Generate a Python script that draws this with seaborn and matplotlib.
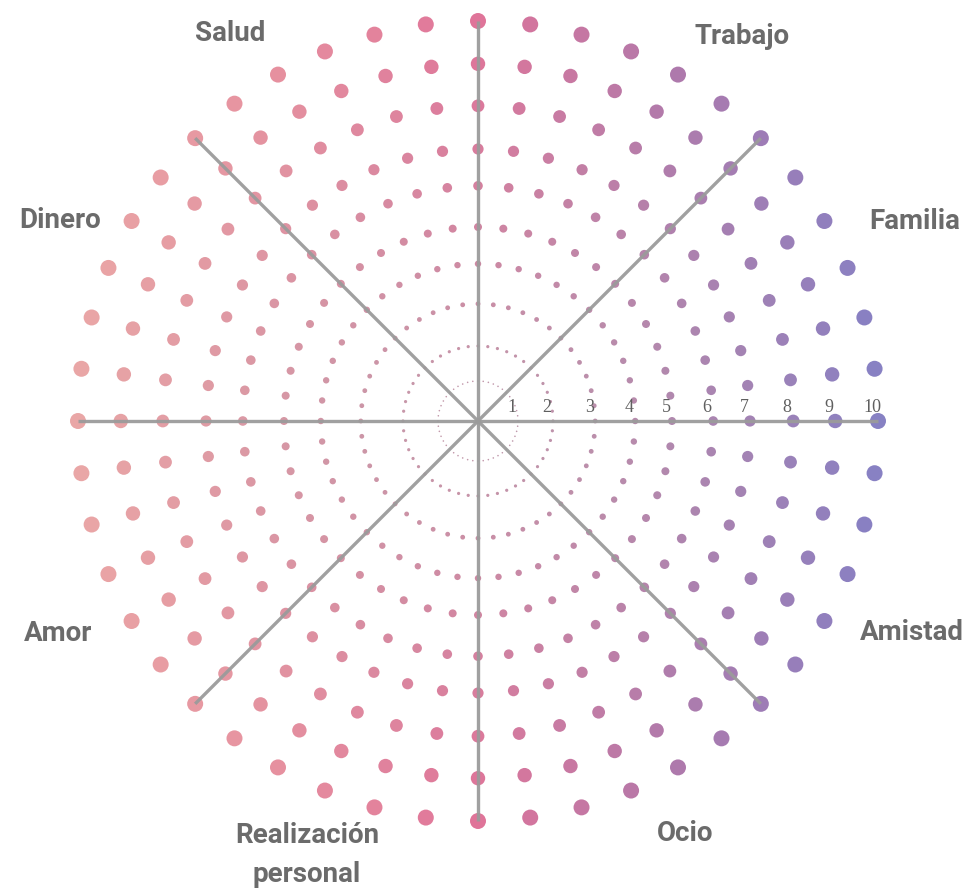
import numpy as np
import pandas as pd
import seaborn as sns
import matplotlib
import matplotlib.pyplot as plt
from matplotlib.colors import to_rgba

# Data.
categories = ['Familia', 'Trabajo', 'Salud', 'Dinero', 'Amor',
              'Realización\npersonal', 'Ocio', 'Amistad']
scale_labels = ['1', '2', '3', '4', '5', '6', '7', '8', '9', '10']
ring_levels = [1, 2, 3, 4, 5, 6, 7, 8, 9, 10]
ring_radius = [1.0, 1.875, 2.93, 3.93, 4.85, 5.88, 6.8, 7.88, 8.93, 10.0]
spoke_angles = [0, 45, 90, 135, 180, 225, 270, 315]
dots_per_ring = 48

# Layout of the category labels (angle in degrees, radius).
label_layout = [(24.6, 12.0), (55.5, 11.65), (122.6, 11.5), (154.4, 11.58),
                (206.8, 11.76), (248.5, 11.66), (296.7, 11.53), (334.0, 12.07)]


def main():
    ''' Dotted wheel of life. '''

    # Build dot table.
    rows = []
    for level, rad in zip(ring_levels, ring_radius):
        for k in range(dots_per_ring):
            theta = 2 * np.pi * k / dots_per_ring
            rows.append({'theta': theta, 'r': rad, 'ring': level,
                         'xpos': rad * np.cos(theta)})
    df = pd.DataFrame(rows)

    fig = plt.figure(figsize=(9.74, 8.93), dpi=100)
    ax = fig.add_axes([78 / 974, 72 / 893, 800 / 974, 800 / 893], projection='polar')

    cmap = sns.blend_palette(['#E9A6A6', '#E6909F', '#DF7499', '#AE79AC', '#8781C3'],
                             as_cmap=True)
    size_map = {lv: (1.6 * lv * 0.72) ** 2 for lv in ring_levels}

    sns.scatterplot(data=df, x='theta', y='r', hue='xpos', palette=cmap, hue_norm=(-10, 10),
                    size='ring', sizes=size_map, linewidth=0, legend=False, ax=ax, zorder=3)
    coll = ax.collections[0]
    coll.set_clip_on(False)

    # Fade inner rings toward a soft grey.
    fc = np.array(coll.get_facecolors())
    grey = np.array(to_rgba('#b3aab3'))
    w = (1 - df['ring'].to_numpy() / 10.0) ** 1.3 * 0.75
    fc = fc * (1 - w[:, None]) + grey * w[:, None]
    fc[:, 3] = 1.0
    coll.set_facecolors(fc)

    # Spokes.
    for a in spoke_angles:
        t = np.deg2rad(a)
        ax.plot([t, t], [0, 10], color='#9b9b9b', lw=2.4, solid_capstyle='butt',
                zorder=4, clip_on=False, alpha=0.95)

    # Scale numbers along the horizontal axis.
    for lab, rad in zip(scale_labels, ring_radius):
        ax.annotate(lab, xy=(0, rad), xytext=(-6, 13), textcoords='offset pixels',
                    ha='center', va='center', fontsize=13, color='#5f5f5f',
                    family='Liberation Serif', zorder=5)

    # Category labels.
    for lab, (deg, rad) in zip(categories, label_layout):
        ax.text(np.deg2rad(deg), rad, lab, ha='center', va='center', fontsize=20,
                color='#6b6b6b', family='Roboto', fontweight='bold',
                linespacing=1.55, clip_on=False)

    ax.set_ylim(0, 10)
    ax.set_xticks([])
    ax.set_yticks([])
    ax.grid(False)
    ax.spines['polar'].set_visible(False)
    ax.patch.set_alpha(0)
    ax.set_xlabel('')
    ax.set_ylabel('')

    plt.savefig('out.png', dpi=100)
    plt.close()


if __name__ == "__main__":
    main()
